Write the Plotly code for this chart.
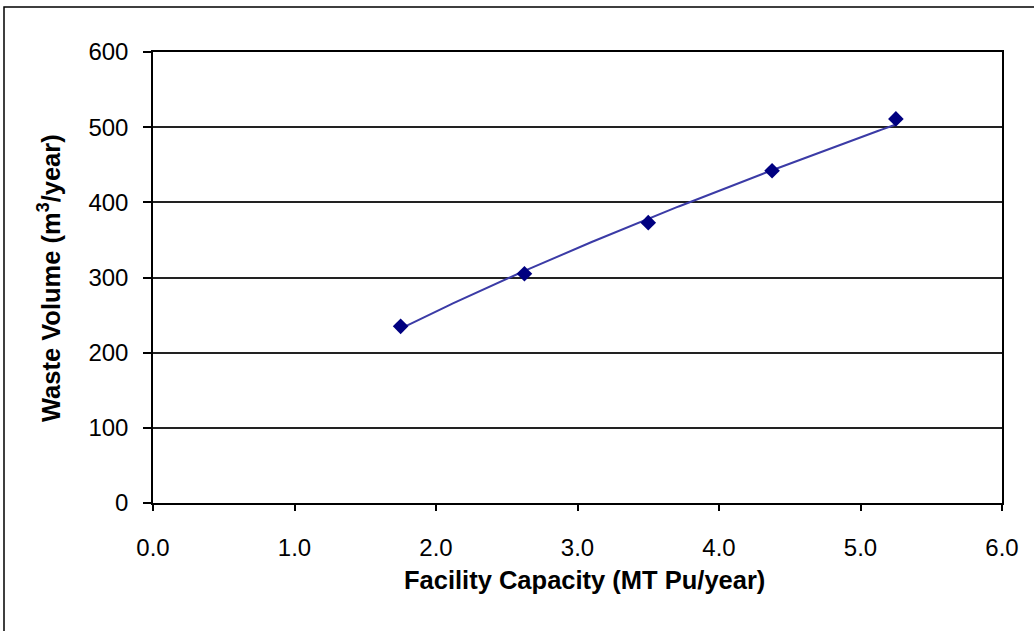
import numpy as np
import plotly.graph_objects as go

capacity = [1.75, 2.625, 3.5, 4.375, 5.25]
waste_volume = [235, 305, 373, 442, 511]
x_ticks = [0, 1, 2, 3, 4, 5, 6]
x_tick_labels = ["0.0", "1.0", "2.0", "3.0", "4.0", "5.0", "6.0"]
y_ticks = [0, 100, 200, 300, 400, 500, 600]

# Power trendline fit (y = a * x^b) from the data
b, ln_a = np.polyfit(np.log(capacity), np.log(waste_volume), 1)
xf = np.linspace(min(capacity), max(capacity), 200)
yf = np.exp(ln_a) * xf ** b

fig = go.Figure()
fig.add_trace(go.Scatter(x=xf, y=yf, mode="lines",
                         line=dict(color="#3b3ba6", width=2), hoverinfo="skip"))
fig.add_trace(go.Scatter(x=capacity, y=waste_volume, mode="markers",
                         marker=dict(symbol="diamond", size=12, color="#000080")))

W, H = 1034, 631
L, R, T, B = 153, 32, 52, 128
pw, ph = W - L - R, H - T - B

def px(x):
    return (x - L) / pw

def py(y):
    return (H - B - y) / ph

fig.update_layout(
    width=W, height=H,
    margin=dict(l=L, r=R, t=T, b=B),
    paper_bgcolor="white", plot_bgcolor="white",
    showlegend=False,
    font=dict(family="Liberation Sans, Arial, sans-serif", color="black", size=24),
    xaxis=dict(range=[0, 6], tickvals=x_ticks, ticktext=x_tick_labels,
               showline=True, linecolor="black", linewidth=1.5, mirror=True,
               ticks="outside", ticklen=6, tickwidth=1.5, tickcolor="black",
               showgrid=False, zeroline=False, ticklabelstandoff=16,
               tickfont=dict(size=24)),
    yaxis=dict(range=[0, 600], tickvals=y_ticks,
               showline=True, linecolor="black", linewidth=1.5, mirror=True,
               ticks="outside", ticklen=8, tickwidth=1.5, tickcolor="black",
               showgrid=True, gridcolor="#222222", gridwidth=1.5, zeroline=False,
               ticklabelstandoff=10, tickfont=dict(size=24)),
    annotations=[
        dict(text="<b>Facility Capacity (MT Pu/year)</b>", xref="paper", yref="paper",
             x=px(584), y=py(580), showarrow=False, font=dict(size=25.5),
             xanchor="center", yanchor="middle"),
        dict(text="<b>Waste Volume (m<sup>3</sup>/year)</b>", xref="paper", yref="paper",
             x=px(49), y=py(278), showarrow=False, font=dict(size=25.5), textangle=-90,
             xanchor="center", yanchor="middle"),
    ],
    shapes=[
        dict(type="rect", xref="paper", yref="paper",
             x0=px(4), x1=px(1040), y0=py(640), y1=py(7),
             line=dict(color="black", width=1.5), fillcolor="rgba(0,0,0,0)", layer="below"),
    ],
)

fig.write_html("out.html", config={"displayModeBar": False},
               post_script="document.body.style.margin='0';")
